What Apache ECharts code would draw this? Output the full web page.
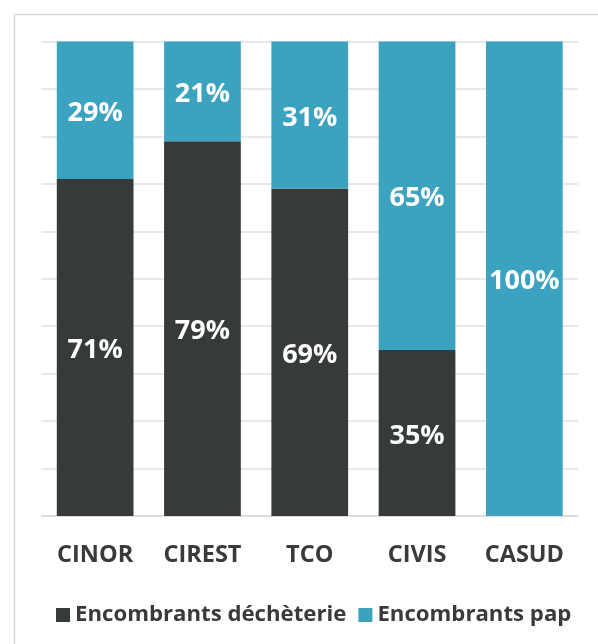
<!DOCTYPE html>
<html><head><meta charset="utf-8">
<script src="https://cdn.jsdelivr.net/npm/echarts@6/dist/echarts.min.js"></script>
<style>html,body{margin:0;padding:0;background:#fff}#c{width:598px;height:644px}</style>
</head><body><div id="c"></div>
<script>
const categories = ['CINOR', 'CIREST', 'TCO', 'CIVIS', 'CASUD'];
const decheterie = [71, 79, 69, 35, 0];
const pap = [29, 21, 31, 65, 100];
const seriesNames = ['Encombrants déchèterie', 'Encombrants pap'];

const FONT = 'Open Sans';
const chart = echarts.init(document.getElementById('c'), null, {renderer: 'canvas'});
const lbl = {
  show: true, position: 'inside', offset: [0, 3], color: '#ffffff', fontFamily: FONT, fontWeight: 'bold', fontSize: 27,
  formatter: p => p.value ? p.value + '%' : ''
};
chart.setOption({
  animation: false,
  backgroundColor: '#ffffff',
  graphic: [{type: 'rect', left: 12, top: 12, shape: {width: 700, height: 700}, style: {fill: 'none', stroke: '#d9d9d9', lineWidth: 1.5}, silent: true}],
  grid: {left: 41.5, right: 20, top: 41.5, bottom: 128, containLabel: false},
  legend: {
    data: seriesNames, left: 51, top: 599, icon: 'rect', itemWidth: 14, itemHeight: 14, itemGap: 12,
    textStyle: {fontFamily: FONT, fontWeight: 'bold', fontSize: 22.2, color: '#3a3a3a'}
  },
  xAxis: {
    type: 'category', data: categories,
    axisLine: {show: true, lineStyle: {color: '#d9d9d9', width: 1.5}},
    axisTick: {show: false},
    axisLabel: {interval: 0, margin: 27, fontFamily: FONT, fontWeight: 'bold', fontSize: 23.5, color: '#3a3a3a'}
  },
  yAxis: {
    type: 'value', min: 0, max: 100, interval: 10,
    axisLabel: {show: false}, axisLine: {show: false}, axisTick: {show: false},
    splitLine: {lineStyle: {color: '#e0e0e0', width: 1.5}}
  },
  series: [
    {name: seriesNames[0], type: 'bar', stack: 't', data: decheterie, barCategoryGap: '28.5%', itemStyle: {color: '#363a3b'}, label: lbl},
    {name: seriesNames[1], type: 'bar', stack: 't', data: pap, barCategoryGap: '28.5%', itemStyle: {color: '#3ba3c0'}, label: lbl}
  ]
});
</script></body></html>
